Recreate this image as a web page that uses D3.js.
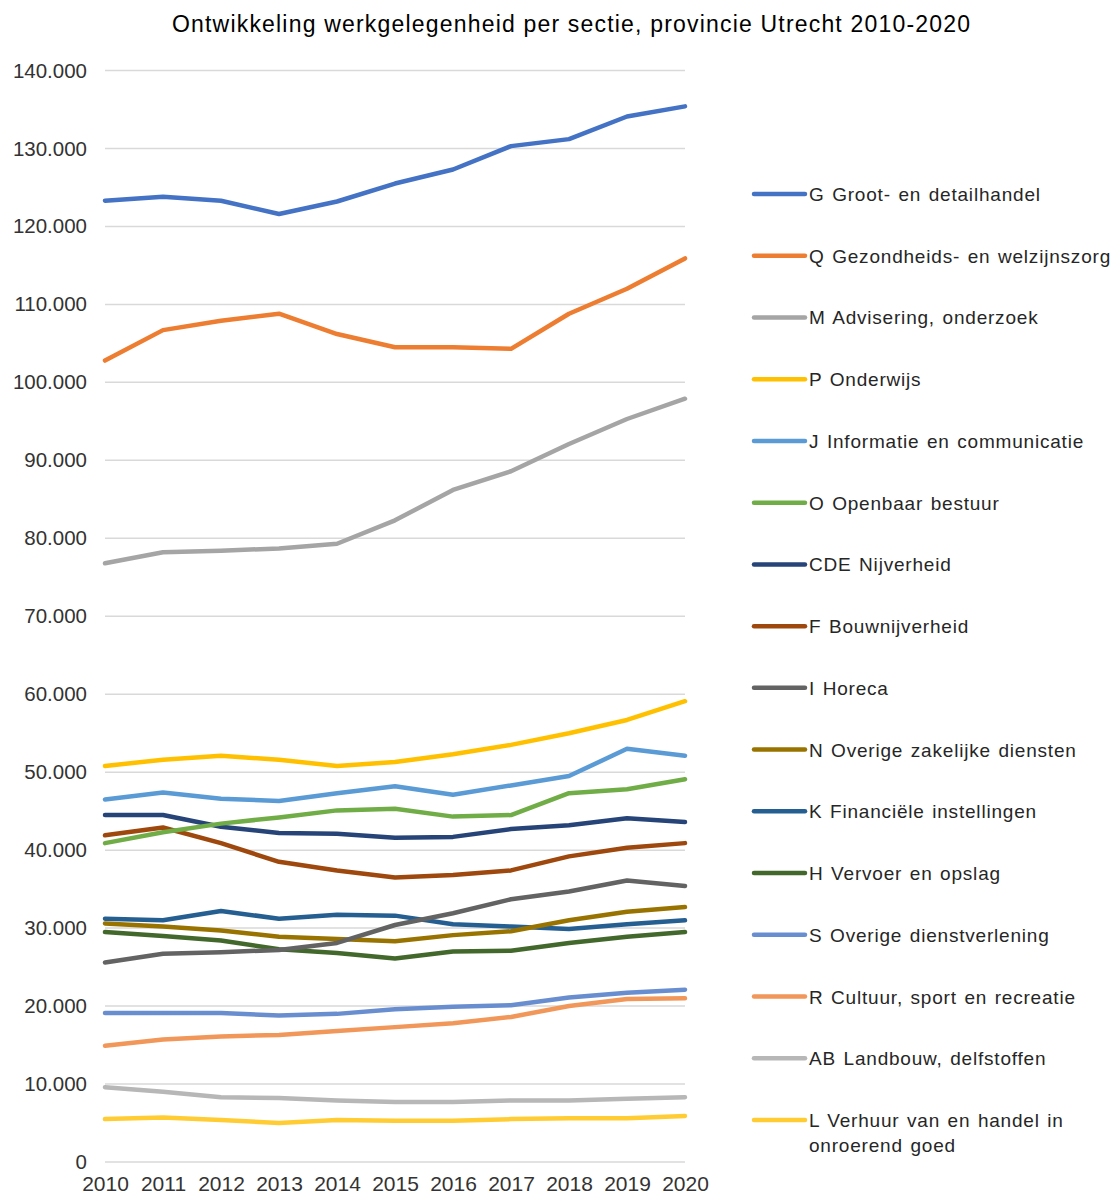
<!DOCTYPE html>
<html><head><meta charset="utf-8">
<script src="https://cdn.jsdelivr.net/npm/d3@7"></script>
<style>
html,body{margin:0;padding:0;background:#fff;}
svg{display:block;font-family:"Liberation Sans",Arial,sans-serif;}
</style></head>
<body><svg id="chart" width="1118" height="1195"></svg>
<script>
const years = [2010,2011,2012,2013,2014,2015,2016,2017,2018,2019,2020];
const yTicks = [0,10000,20000,30000,40000,50000,60000,70000,80000,90000,100000,110000,120000,130000,140000];
const seriesNames = [
  "G Groot- en detailhandel",
  "Q Gezondheids- en welzijnszorg",
  "M Advisering, onderzoek",
  "P Onderwijs",
  "J Informatie en communicatie",
  "O Openbaar bestuur",
  "CDE Nijverheid",
  "F Bouwnijverheid",
  "I Horeca",
  "N Overige zakelijke diensten",
  "K Financiële instellingen",
  "H Vervoer en opslag",
  "S Overige dienstverlening",
  "R Cultuur, sport en recreatie",
  "AB Landbouw, delfstoffen",
  "L Verhuur van en handel in onroerend goed"
];
const seriesColors = ["#4472C4","#ED7D31","#A5A5A5","#FFC000","#5B9BD5","#70AD47","#264478","#9E480E","#636363","#997300","#255E91","#43682B","#698ED0","#F1975A","#B7B7B7","#FFCD33"];
const G   = [123300,123800,123300,121600,123200,125500,127300,130300,131200,134100,135400];
const Q   = [102800,106700,107900,108800,106200,104500,104500,104300,108800,112000,115900];
const M   = [76800,78200,78400,78700,79300,82300,86200,88600,92100,95300,97900];
const P   = [50800,51600,52100,51600,50800,51300,52300,53500,55000,56700,59100];
const J   = [46500,47400,46600,46300,47300,48200,47100,48300,49500,53000,52100];
const O   = [40900,42300,43400,44200,45100,45300,44300,44500,47300,47800,49100];
const CDE = [44500,44500,43000,42200,42100,41600,41700,42700,43200,44100,43600];
const F   = [41900,42900,40900,38500,37400,36500,36800,37400,39200,40300,40900];
const I   = [25600,26700,26900,27200,28100,30400,31900,33700,34700,36100,35400];
const N   = [30600,30200,29700,28900,28600,28300,29100,29600,31000,32100,32700];
const K   = [31200,31000,32200,31200,31700,31600,30500,30200,29900,30500,31000];
const H   = [29500,29000,28400,27300,26800,26100,27000,27100,28100,28900,29500];
const S   = [19100,19100,19100,18800,19000,19600,19900,20100,21100,21700,22100];
const R   = [14900,15700,16100,16300,16800,17300,17800,18600,20000,20900,21000];
const AB  = [9600,9000,8300,8200,7900,7700,7700,7900,7900,8100,8300];
const L   = [5500,5700,5400,5000,5400,5300,5300,5500,5600,5600,5900];
const seriesValues = [G,Q,M,P,J,O,CDE,F,I,N,K,H,S,R,AB,L];

const svg = d3.select("#chart");
const x = d3.scaleLinear().domain([2010,2020]).range([105,685]);
const y = d3.scaleLinear().domain([0,140000]).range([1162,70.5]);
const fmt = v => d3.format(",")(v).replace(/,/g,".");

// gridlines
svg.append("g").selectAll("line").data(yTicks).join("line")
  .attr("x1",105).attr("x2",685)
  .attr("y1",d=>y(d)).attr("y2",d=>y(d))
  .attr("stroke","#D9D9D9").attr("stroke-width",1.5);

// y axis labels
const yAxis = svg.append("g").attr("transform","translate(95,0)")
  .call(d3.axisLeft(y).tickValues(yTicks).tickFormat(fmt).tickSize(0).tickPadding(8));
yAxis.select(".domain").remove();
yAxis.selectAll("text").attr("font-size",20.5).attr("fill","#333")
  .attr("font-family","'Liberation Sans',Arial,sans-serif");

// x axis labels
const xAxis = svg.append("g").attr("transform","translate(0,1170)")
  .call(d3.axisBottom(x).tickValues(years).tickFormat(d3.format("d")).tickSize(0).tickPadding(6));
xAxis.select(".domain").remove();
xAxis.selectAll("text").attr("font-size",21).attr("fill","#333")
  .attr("font-family","'Liberation Sans',Arial,sans-serif");

// lines
const line = d3.line().x((d,i)=>x(years[i])).y(d=>y(d));
const order = seriesValues.map((v,i)=>i).reverse();
svg.append("g").selectAll("path").data(order).join("path")
  .attr("d",i=>line(seriesValues[i]))
  .attr("fill","none")
  .attr("stroke",i=>seriesColors[i])
  .attr("stroke-width",4.5)
  .attr("stroke-linejoin","round")
  .attr("stroke-linecap","round");

// title
svg.append("text").attr("x",172).attr("y",32)
  .attr("font-size",23).attr("fill","#000")
  .attr("textLength",798).attr("lengthAdjust","spacing")
  .text("Ontwikkeling werkgelegenheid per sectie, provincie Utrecht 2010-2020");

// legend
const lg = svg.append("g");
const legY = d3.scaleLinear().domain([0,15]).range([194,1120]);
seriesNames.forEach((name,i)=>{
  const yy = legY(i);
  lg.append("line").attr("x1",754).attr("x2",805).attr("y1",yy).attr("y2",yy)
    .attr("stroke",seriesColors[i]).attr("stroke-width",4.5).attr("stroke-linecap","round");
  const t = lg.append("text").attr("x",809).attr("y",yy+7).attr("font-size",19)
    .attr("fill","#262626").attr("letter-spacing",0.8).attr("word-spacing",1.5);
  if (name.startsWith("L Verhuur")) {
    t.append("tspan").attr("x",809).text("L Verhuur van en handel in");
    t.append("tspan").attr("x",809).attr("dy",25).text("onroerend goed");
  } else t.text(name);
});
</script></body></html>
